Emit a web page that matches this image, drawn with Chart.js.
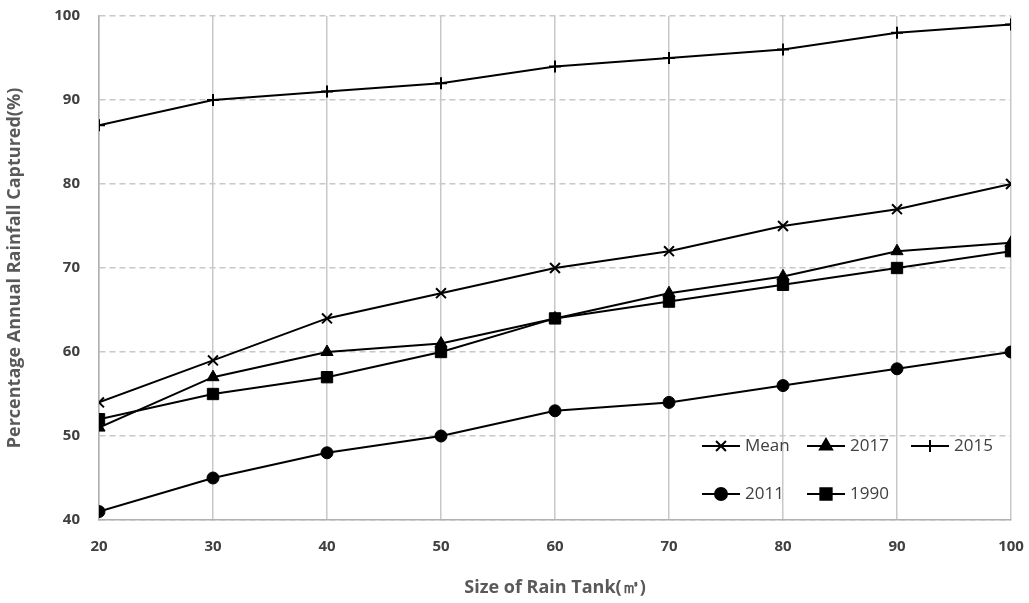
<!DOCTYPE html>
<html><head><meta charset="utf-8">
<script src="https://cdn.jsdelivr.net/npm/chart.js@4"></script>
<style>html,body{margin:0;padding:0;background:#fff}#wrap{width:1029px;height:603px}</style>
</head><body><div id="wrap"><canvas id="c" width="1029" height="603"></canvas></div>
<script>
const categories = [20, 30, 40, 50, 60, 70, 80, 90, 100];
const meanValues = [54, 59, 64, 67, 70, 72, 75, 77, 80];
const y2017Values = [51, 57, 60, 61, 64, 67, 69, 72, 73];
const y2015Values = [87, 90, 91, 92, 94, 95, 96, 98, 99];
const y2011Values = [41, 45, 48, 50, 53, 54, 56, 58, 60];
const y1990Values = [52, 55, 57, 60, 64, 66, 68, 70, 72];
const yTicks = [40, 50, 60, 70, 80, 90, 100];

function mk(label, data, style, radius) {
  return {label, data: data.map((v,i)=>({x:categories[i], y:v})), borderColor:'#000', backgroundColor:'#000',
    borderWidth:2, pointStyle:style, pointRadius:radius, pointBorderWidth: (style==='crossRot'||style==='cross')?2:1,
    pointBorderColor:'#000', pointBackgroundColor:'#000', tension:0, fill:false};
}
const datasets = [
  mk('Mean', meanValues, 'crossRot', 7),
  mk('2017', y2017Values, 'triangle', 7),
  mk('2015', y2015Values, 'cross', 6),
  mk('2011', y2011Values, 'circle', 6),
  mk('1990', y1990Values, 'rect', 8),
];

const legendPlugin = {
  id:'inLegend',
  afterDraw(chart){
    const ctx = chart.ctx;
    const items = [
      {i:0, x:702, y:446}, {i:1, x:807, y:446}, {i:2, x:911, y:446},
      {i:3, x:702, y:494}, {i:4, x:807, y:494}
    ];
    ctx.save();
    items.forEach(it=>{
      const ds = chart.data.datasets[it.i];
      ctx.strokeStyle='#000'; ctx.lineWidth=2;
      ctx.beginPath(); ctx.moveTo(it.x, it.y); ctx.lineTo(it.x+38, it.y); ctx.stroke();
      Chart.helpers.drawPoint(ctx, {pointStyle:ds.pointStyle, radius:ds.pointRadius, borderWidth:ds.pointBorderWidth, rotation:0}, it.x+19, it.y);
      ctx.fillStyle='#000'; ctx.fill();
      ctx.fillStyle='#404040'; ctx.font='17px "Open Sans", sans-serif'; ctx.textBaseline='middle'; ctx.textAlign='left';
      ctx.fillText(ds.label, it.x+43, it.y);
    });
    ctx.restore();
  }
};
function zeroPad(s){ s.paddingLeft=0; s.paddingRight=0; s.paddingTop=0; s.paddingBottom=0; }

new Chart(document.getElementById('c'), {
  type:'line',
  data:{datasets},
  options:{
    responsive:false, animation:false,
    layout:{padding:{top:16, right:18, left:0, bottom:0}},
    plugins:{legend:{display:false}, tooltip:{enabled:false}},
    scales:{
      x:{type:'linear', min:20, max:100,
        afterBuildTicks(s){ s.ticks = categories.map(v=>({value:v})); },
        afterFit(s){ s.height = 83; zeroPad(s); },
        grid:{color:'#c8c8c8', lineWidth:1.5, drawTicks:false},
        border:{color:'#b0b0b0', width:1.5},
        ticks:{padding:18, color:'#404040', font:{family:'"Open Sans", sans-serif', size:15, weight:'bold'}, maxRotation:0},
        title:{display:true, text:'Size of Rain Tank(㎥)', color:'#595959', font:{family:'"Open Sans", sans-serif', size:18, weight:'bold'}, padding:{top:4}}
      },
      y:{min:40, max:100,
        afterBuildTicks(s){ s.ticks = yTicks.map(v=>({value:v})); },
        afterFit(s){ s.width = 99; zeroPad(s); },
        grid:{color:'#c8c8c8', lineWidth:1.5, drawTicks:false},
        border:{color:'#b0b0b0', width:1.5, dash:[6,4]},
        ticks:{padding:19, color:'#404040', font:{family:'"Open Sans", sans-serif', size:15, weight:'bold'}},
        title:{display:true, text:'Percentage Annual Rainfall Captured(%)', color:'#595959', font:{family:'"Open Sans", sans-serif', size:18, weight:'bold'}, padding:{top:4, bottom:0}}
      }
    }
  },
  plugins:[legendPlugin]
});
</script></body></html>
